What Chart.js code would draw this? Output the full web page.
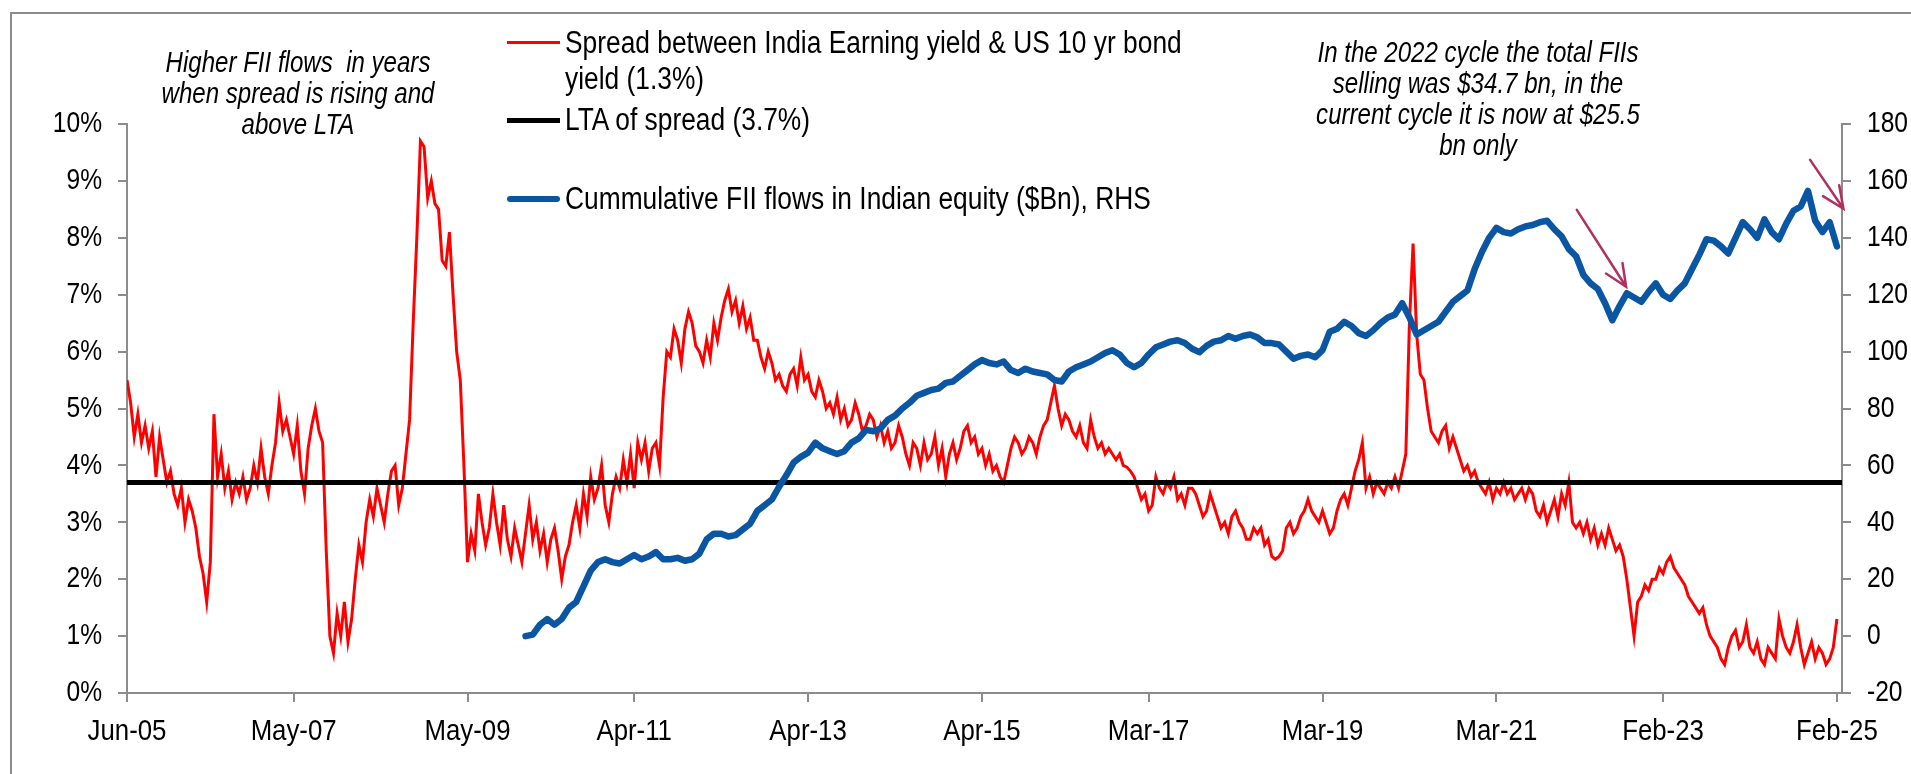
<!DOCTYPE html>
<html>
<head>
<meta charset="utf-8">
<title>Spread vs FII flows</title>
<script src="https://cdn.jsdelivr.net/npm/chart.js@4.4.1/dist/chart.umd.min.js"></script>
<style>
  html, body { margin: 0; padding: 0; background: #fff; }
  body {
    width: 1911px; height: 774px; position: relative; overflow: hidden;
    font-family: "Liberation Sans", Arial, sans-serif;
    color: #000;
  }
  #frame {
    position: absolute; left: 10px; top: 12px; width: 1920px; height: 800px;
    border: 2px solid #8c8c8c; box-sizing: border-box;
  }
  #chart { position: absolute; left: 0; top: 0; }
  .legend { position: absolute; left: 507px; top: 0; font-size: 31px; line-height: 36px; }
  .swatch { position: absolute; left: 0; width: 53px; }
  .legend-text {
    position: absolute; left: 58px; white-space: nowrap;
    transform: scaleX(0.85); transform-origin: 0 0;
  }
  .note {
    position: absolute; font-style: italic; font-size: 29px; line-height: 31px;
    text-align: center; white-space: nowrap;
    transform: translateX(-50%) scaleX(0.83); transform-origin: 50% 0;
  }
</style>
</head>
<body>
<div id="frame"></div>
<canvas id="chart" width="1911" height="774"></canvas>

<div class="legend">
  <div class="swatch" style="top:41px;height:3px;background:#ff0000;"></div>
  <div class="legend-text" style="top:25px;">Spread between India Earning yield &amp; US 10 yr bond<br>yield (1.3%)</div>
  <div class="swatch" style="top:118px;height:5px;background:#000;"></div>
  <div class="legend-text" style="top:102px;">LTA of spread (3.7%)</div>
  <div class="swatch" style="top:196px;height:6px;border-radius:3px;background:#0b56a2;"></div>
  <div class="legend-text" style="top:181px;">Cummulative FII flows in Indian equity ($Bn), RHS</div>
</div>

<div class="note" style="left:298px;top:47px;">Higher FII flows&nbsp; in years<br>when spread is rising and<br>above LTA</div>
<div class="note" style="left:1478px;top:37px;">In the 2022 cycle the total FIIs<br>selling was $34.7 bn, in the<br>current cycle it is now at $25.5<br>bn only</div>

<script>
// Month index 0 = Jun-05, 236 = Feb-25
const tickMonths = [0, 23, 47, 70, 94, 118, 141, 165, 189, 212, 236];
const tickLabels = ["Jun-05", "May-07", "May-09", "Apr-11", "Apr-13", "Apr-15",
  "Mar-17", "Mar-19", "Mar-21", "Feb-23", "Feb-25"];

// Spread between India earning yield & US 10yr (%), two readings per month, Jun-05 .. Feb-25
const spread = [
  // 2005 Jun-Dec
  5.5, 5.1, 4.5, 4.9, 4.4, 4.7, 4.3, 4.6, 3.8, 4.5, 4.1, 3.7, 3.9, 3.5,
  // 2006
  3.3, 3.6, 3.0, 3.4, 3.2, 2.9, 2.4, 2.1, 1.6, 2.3, 4.9, 3.8,
  4.2, 3.6, 3.9, 3.4, 3.7, 3.5, 3.8, 3.4, 3.6, 4.0, 3.7, 4.3,
  // 2007
  3.8, 3.5, 4.0, 4.4, 5.1, 4.6, 4.8, 4.5, 4.2, 4.7, 3.9, 3.5,
  4.3, 4.7, 5.0, 4.6, 4.4, 2.5, 1.0, 0.7, 1.4, 1.0, 1.6, 0.9,
  // 2008
  1.3, 2.0, 2.6, 2.3, 3.0, 3.4, 3.1, 3.6, 3.3, 3.0, 3.5, 3.9,
  4.0, 3.3, 3.6, 4.2, 4.8, 6.5, 8.0, 9.7, 9.6, 8.7, 9.0, 8.6,
  // 2009
  8.5, 7.6, 7.5, 8.1, 7.0, 6.0, 5.5, 4.0, 2.3, 2.8, 2.5, 3.5,
  3.0, 2.6, 2.9, 3.5, 3.0, 2.6, 3.3, 2.7, 2.4, 2.9, 2.6, 2.3,
  // 2010
  2.8, 3.3, 2.7, 3.0, 2.5, 2.8, 2.3, 2.7, 2.9, 2.5, 2.0, 2.4,
  2.6, 3.0, 3.3, 2.9, 3.5, 3.1, 3.8, 3.4, 3.6, 4.0, 3.3, 3.0,
  // 2011
  3.5, 3.8, 3.6, 4.1, 3.7, 4.2, 3.6, 4.4, 4.1, 4.4, 3.9, 4.3,
  4.4, 4.0, 5.2, 6.0, 5.9, 6.4, 6.2, 5.8, 6.4, 6.7, 6.5, 6.1,
  // 2012
  6.0, 5.8, 6.2, 5.9, 6.5, 6.2, 6.6, 6.9, 7.1, 6.7, 6.9, 6.5,
  6.8, 6.4, 6.6, 6.2, 6.2, 5.9, 5.7, 6.0, 5.8, 5.5, 5.6, 5.4,
  // 2013
  5.3, 5.6, 5.7, 5.4, 5.9, 5.5, 5.6, 5.3, 5.2, 5.5, 5.3, 5.0,
  5.1, 4.9, 5.2, 4.8, 5.0, 4.7, 4.8, 5.1, 4.9, 4.6, 4.7, 4.9,
  // 2014
  4.8, 4.5, 4.7, 4.4, 4.6, 4.3, 4.4, 4.7, 4.5, 4.2, 4.0, 4.4,
  4.3, 4.0, 4.4, 4.1, 4.2, 4.5, 4.0, 4.3, 3.8, 4.2, 4.4, 4.1,
  // 2015
  4.3, 4.6, 4.7, 4.4, 4.5, 4.2, 4.3, 4.0, 4.2, 3.9, 4.0, 3.8,
  3.7, 4.0, 4.3, 4.5, 4.4, 4.2, 4.3, 4.5, 4.4, 4.2, 4.5, 4.7,
  // 2016
  4.8, 5.1, 5.4, 5.0, 4.7, 4.9, 4.8, 4.6, 4.5, 4.7, 4.4, 4.3,
  4.8, 4.5, 4.3, 4.4, 4.2, 4.3, 4.2, 4.1, 4.2, 4.0, 3.97, 3.9,
  // 2017
  3.8, 3.6, 3.4, 3.5, 3.2, 3.3, 3.8, 3.6, 3.5, 3.7, 3.6, 3.8,
  3.4, 3.5, 3.3, 3.6, 3.6, 3.5, 3.3, 3.1, 3.2, 3.5, 3.3, 3.1,
  // 2018
  2.9, 3.0, 2.8, 3.1, 3.2, 3.0, 2.9, 2.7, 2.7, 2.9, 2.8, 2.9,
  2.6, 2.7, 2.4, 2.35, 2.4, 2.5, 2.9, 3.0, 2.8, 2.9, 3.1, 3.2,
  // 2019
  3.4, 3.2, 3.1, 3.0, 3.2, 3.0, 2.8, 2.9, 3.2, 3.4, 3.5, 3.3,
  3.6, 3.9, 4.1, 4.4, 3.6, 3.8, 3.5, 3.7, 3.6, 3.5, 3.7, 3.6,
  // 2020
  3.8, 3.6, 3.9, 4.2, 6.5, 7.9, 6.3, 5.6, 5.5, 5.0, 4.6, 4.5,
  4.4, 4.6, 4.7, 4.3, 4.5, 4.3, 4.1, 3.9, 4.0, 3.8, 3.9, 3.7,
  // 2021
  3.6, 3.5, 3.7, 3.4, 3.6, 3.5, 3.7, 3.5, 3.6, 3.4, 3.5, 3.6,
  3.4, 3.6, 3.5, 3.2, 3.1, 3.3, 3.0, 3.2, 3.4, 3.1, 3.5, 3.3,
  // 2022
  3.7, 3.0, 2.9, 3.0, 2.8, 3.0, 2.7, 2.9, 2.6, 2.8, 2.6, 2.9,
  2.7, 2.5, 2.6, 2.4, 2.0, 1.5, 1.0, 1.6, 1.7, 1.9, 1.8, 2.0,
  // 2023
  2.0, 2.2, 2.1, 2.3, 2.4, 2.2, 2.1, 2.0, 1.9, 1.7, 1.6, 1.5,
  1.4, 1.5, 1.2, 1.0, 0.9, 0.8, 0.6, 0.5, 0.8, 1.0, 1.1, 0.8,
  // 2024
  0.9, 1.2, 0.8, 0.7, 0.9, 0.6, 0.5, 0.8, 0.7, 0.6, 1.3, 1.0,
  0.8, 0.7, 0.9, 1.2, 0.8, 0.5, 0.7, 0.9, 0.6, 0.8, 0.7, 0.5,
  // 2025 Jan-Feb
  0.6, 0.8, 1.3
];
const spreadPerMonth = 2;

// Long term average of spread (%)
const ltaSpread = 3.7;

// Cumulative FII flows ($bn), monthly from Jan-10 (month index 55)
const fiiStartMonth = 55;
const fiiFlows = [
  0, 0.5, 4, 6, 4, 6, 10, 12, 17.5, 23, 26, 27,
  26, 25.5, 27, 28.5, 27, 28, 29.5, 27, 27, 27.5, 26.5, 27,
  29, 34, 36, 36, 35, 35.5, 37.5, 39.5, 44, 46, 48, 52.5,
  56.5, 61, 63, 64.5, 68, 66, 65, 64, 65, 68, 69.5, 72.5,
  72, 73, 76, 77.5, 80, 82, 84.5, 85.5, 86.5, 87, 89, 89.5,
  91.5, 93.5, 95.5, 97, 96, 95.5, 96.5, 93.5, 92.5, 94, 93, 92.5,
  92, 90, 89.5, 93, 94.5, 95.5, 96.5, 98, 99.5, 100.5, 99, 96,
  94.5, 96, 99, 101.5, 102.5, 103.5, 104, 103, 101, 99.8, 102, 103.5,
  104, 105.5, 104.5, 105.5, 106, 105, 103, 103, 102.5, 100, 97.5, 98.5,
  99, 98, 100.5, 107, 108, 110.5, 109, 106.5, 105.5, 107.5, 110, 112,
  113, 117, 112, 106, 107.5, 109, 110.5, 114, 117.5, 119.5, 121.5, 129,
  135, 140, 143.5, 142, 141.5, 143, 144, 144.5, 145.5, 146, 143, 140.5,
  136, 133.5, 127, 124, 122, 117, 111, 116, 120.5, 119, 117.5, 121,
  124, 120, 118.5, 121.5, 124, 129, 134, 139.5, 139, 137, 134.5, 140,
  145.5, 143, 140, 146.5, 142, 139.5, 145, 149.5, 151, 156.5, 146, 142,
  145.5, 137
];

// x range of the axis (months)
const xMin = 0;
const xMax = 236.7;

// annotation arrows, in (month, RHS value)
const arrowNotes = [
  { from: [200.1, 149.8], to: [206.9, 122.8] },
  { from: [232.3, 167.4], to: [236.9, 150.2] }
];

const axisGray = "#8c8c8c";
const tickFontCss = "30px 'Liberation Sans', Arial, sans-serif";
const xSqueeze = 0.86;
const ySqueeze = 0.82;

// draw text narrowed horizontally (the original uses a condensed face)
function drawSqueezed(ctx, text, x, y, squeeze) {
  ctx.save();
  ctx.translate(x, y);
  ctx.scale(squeeze, 1);
  ctx.fillText(text, 0, 0);
  ctx.restore();
}

const tickLabelPlugin = {
  id: "narrowTickLabels",
  afterDraw(chart) {
    const { ctx, scales, chartArea } = chart;
    ctx.save();
    ctx.fillStyle = "#000";
    ctx.font = tickFontCss;
    ctx.textBaseline = "middle";

    ctx.textAlign = "center";
    scales.x.ticks.forEach((t) => {
      const label = tickLabels[tickMonths.indexOf(t.value)];
      drawSqueezed(ctx, label, scales.x.getPixelForValue(t.value), chartArea.bottom + 39, xSqueeze);
    });

    ctx.textAlign = "right";
    scales.y.ticks.forEach((t) => {
      drawSqueezed(ctx, t.value + "%", chartArea.left - 25, scales.y.getPixelForValue(t.value), ySqueeze);
    });

    ctx.textAlign = "left";
    scales.y2.ticks.forEach((t) => {
      drawSqueezed(ctx, String(t.value), chartArea.right + 25, scales.y2.getPixelForValue(t.value), ySqueeze);
    });
    ctx.restore();
  }
};

const arrowPlugin = {
  id: "arrowNotes",
  afterDatasetsDraw(chart) {
    const { ctx, scales } = chart;
    ctx.save();
    ctx.strokeStyle = "#b0305e";
    ctx.lineWidth = 2.5;
    ctx.lineCap = "round";
    arrowNotes.forEach((a) => {
      const x1 = scales.x.getPixelForValue(a.from[0]);
      const y1 = scales.y2.getPixelForValue(a.from[1]);
      const x2 = scales.x.getPixelForValue(a.to[0]);
      const y2 = scales.y2.getPixelForValue(a.to[1]);
      const ang = Math.atan2(y2 - y1, x2 - x1);
      const head = 24;
      ctx.beginPath();
      ctx.moveTo(x1, y1);
      ctx.lineTo(x2, y2);
      ctx.moveTo(x2 - head * Math.cos(ang - 0.42), y2 - head * Math.sin(ang - 0.42));
      ctx.lineTo(x2, y2);
      ctx.lineTo(x2 - head * Math.cos(ang + 0.42), y2 - head * Math.sin(ang + 0.42));
      ctx.stroke();
    });
    ctx.restore();
  }
};

document.addEventListener("DOMContentLoaded", function () {
  const ctx = document.getElementById("chart").getContext("2d");

  const spreadData = spread.map((v, i) => ({ x: i / spreadPerMonth, y: v }));
  const fiiData = fiiFlows.map((v, i) => ({ x: fiiStartMonth + i, y: v }));
  const ltaData = [{ x: xMin, y: ltaSpread }, { x: xMax, y: ltaSpread }];

  const axisGrid = { drawOnChartArea: false, drawTicks: true, tickLength: 9, color: axisGray, lineWidth: 2 };
  const axisBorder = { display: true, color: axisGray, width: 2 };

  new Chart(ctx, {
    type: "line",
    data: {
      datasets: [
        {
          label: "Spread between India Earning yield & US 10 yr bond yield (1.3%)",
          data: spreadData,
          yAxisID: "y",
          borderColor: "#ff0000",
          borderWidth: 3,
          pointRadius: 0,
          order: 2,
        },
        {
          label: "LTA of spread (3.7%)",
          data: ltaData,
          yAxisID: "y",
          borderColor: "#000000",
          borderWidth: 5,
          pointRadius: 0,
          order: 1,
        },
        {
          label: "Cummulative FII flows in Indian equity ($Bn), RHS",
          data: fiiData,
          yAxisID: "y2",
          borderColor: "#0b56a2",
          borderWidth: 6.5,
          borderCapStyle: "round",
          borderJoinStyle: "round",
          pointRadius: 0,
          order: 0,
        },
      ],
    },
    options: {
      responsive: false,
      devicePixelRatio: 1,
      animation: false,
      layout: { padding: { top: 124, left: 0, right: 0, bottom: 0 } },
      plugins: {
        legend: { display: false },
        tooltip: { enabled: false },
      },
      scales: {
        x: {
          type: "linear",
          min: xMin,
          max: xMax,
          afterBuildTicks: (scale) => {
            scale.ticks = tickMonths.map((m) => ({ value: m }));
          },
          afterFit: (scale) => { scale.height = 81; },
          ticks: { display: false },
          grid: axisGrid,
          border: axisBorder,
        },
        y: {
          position: "left",
          min: 0,
          max: 10,
          afterFit: (scale) => { scale.width = 127; },
          ticks: { display: false, stepSize: 1 },
          grid: axisGrid,
          border: axisBorder,
        },
        y2: {
          position: "right",
          min: -20,
          max: 180,
          afterFit: (scale) => { scale.width = 69; },
          ticks: { display: false, stepSize: 20 },
          grid: axisGrid,
          border: axisBorder,
        },
      },
    },
    plugins: [arrowPlugin, tickLabelPlugin],
  });
});
</script>
</body>
</html>
